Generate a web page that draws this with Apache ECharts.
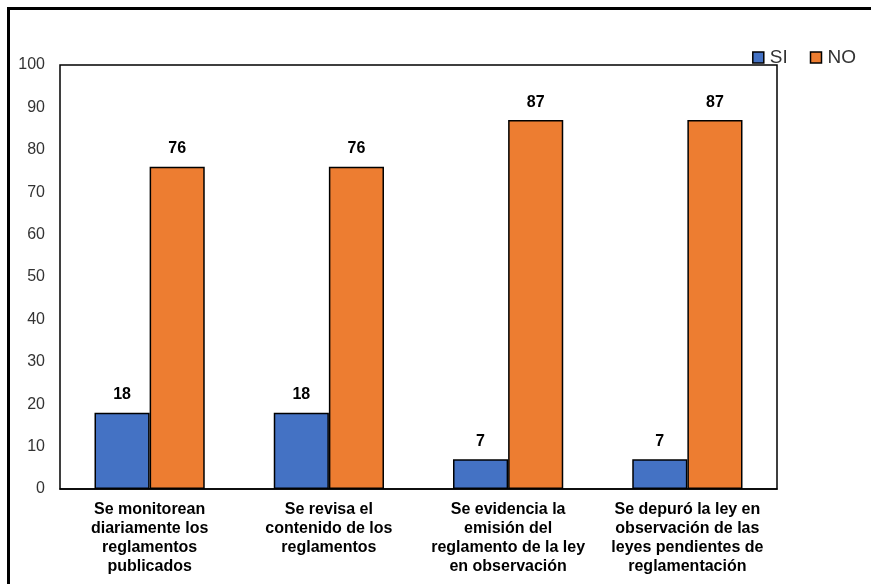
<!DOCTYPE html>
<html>
<head>
<meta charset="utf-8">
<script src="https://cdn.jsdelivr.net/npm/echarts@6/dist/echarts.min.js"></script>
<style>
  html, body { margin: 0; padding: 0; background: #fff; }
  #chart { width: 871px; height: 584px; }
</style>
</head>
<body>
<div id="chart"></div>
<script>
const categories = [
  'Se monitorean\ndiariamente los\nreglamentos\npublicados',
  'Se revisa el\ncontenido de los\nreglamentos',
  'Se evidencia la\nemisión del\nreglamento de la ley\nen observación',
  'Se depuró la ley en\nobservación de las\nleyes pendientes de\nreglamentación'
]
const siValues = [18, 18, 7, 7]
const noValues = [76, 76, 87, 87]

const chart = echarts.init(document.getElementById('chart'))
const font = 'Liberation Sans, Arial, sans-serif'

function barSeries(name, data, color) {
  return {
    name,
    type: 'bar',
    data,
    barGap: '0%',
    barCategoryGap: '38.5%',
    itemStyle: { color, borderColor: '#000', borderWidth: 1.5 },
    label: {
      show: true,
      position: 'top',
      distance: 10,
      color: '#000',
      fontWeight: 'bold',
      fontSize: 16,
      fontFamily: font
    }
  }
}

chart.setOption({
  animation: false,
  textStyle: { fontFamily: font },
  graphic: [{
    type: 'rect',
    shape: { x: 8.5, y: 8.5, width: 900, height: 600 },
    style: { fill: 'none', stroke: '#000', lineWidth: 3 }
  }],
  legend: {
    data: ['SI', 'NO'],
    right: 10,
    top: 43,
    icon: 'rect',
    itemWidth: 11,
    itemHeight: 11,
    itemGap: 22,
    itemStyle: { borderColor: '#000', borderWidth: 1.5 },
    textStyle: { fontSize: 19, color: '#333', fontFamily: font, padding: [0, 0, 0, 1] }
  },
  grid: {
    left: 60, right: 94, top: 65, bottom: 95,
    show: true, borderColor: '#000', borderWidth: 1.5, backgroundColor: 'transparent'
  },
  xAxis: {
    type: 'category',
    data: categories,
    axisLine: { lineStyle: { color: '#000', width: 1.5 } },
    axisTick: { show: false },
    axisLabel: {
      interval: 0,
      margin: 11,
      color: '#000',
      fontWeight: 'bold',
      fontSize: 16,
      lineHeight: 19,
      fontFamily: font
    }
  },
  yAxis: {
    type: 'value',
    min: 0,
    max: 100,
    interval: 10,
    splitLine: { show: false },
    axisLine: { show: false },
    axisTick: { show: false },
    axisLabel: { margin: 15, color: '#333', fontSize: 16, fontFamily: font }
  },
  series: [
    barSeries('SI', siValues, '#4472C4'),
    barSeries('NO', noValues, '#ED7D31')
  ]
})
</script>
</body>
</html>
